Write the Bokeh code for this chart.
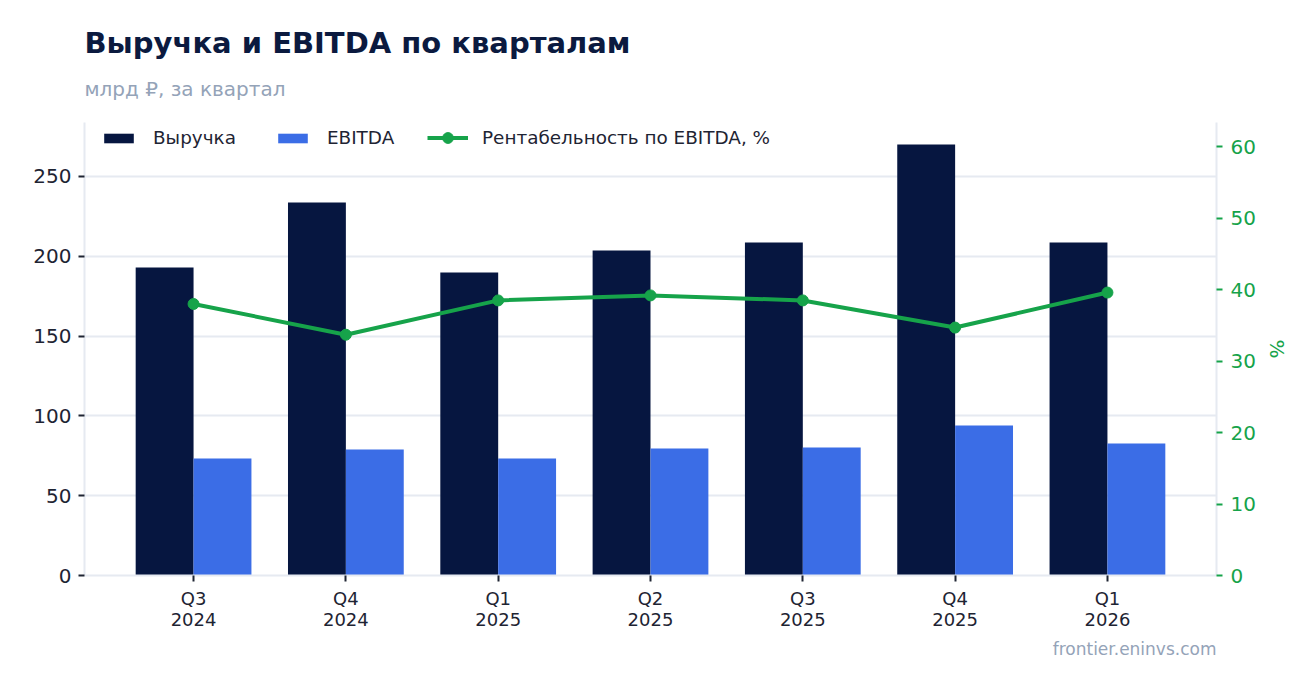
from bokeh.plotting import figure
from bokeh.models import (ColumnDataSource, Range1d, LinearAxis, FixedTicker,
                          Legend, LegendItem, Title)
from bokeh.embed import file_html
from bokeh.resources import INLINE

# данные по кварталам (млрд руб.)
quarters = ["Q3\n2024", "Q4\n2024", "Q1\n2025", "Q2\n2025", "Q3\n2025", "Q4\n2025", "Q1\n2026"]
revenue = [193.0, 233.7, 189.8, 203.6, 208.6, 270.0, 208.6]
ebitda = [73.3, 78.9, 73.3, 79.6, 80.2, 94.0, 82.7]
margin = [38.0, 33.7, 38.5, 39.2, 38.5, 34.7, 39.6]

FONT = "DejaVu Sans"
NAVY = "#061640"
BLUE = "#3b6de6"
GREEN = "#16a34a"
GRID = "#e6eaf1"
TXT = "#1e2433"
MUTED = "#94a3b8"

xs = list(range(len(quarters)))
src = ColumnDataSource(dict(
    x=xs,
    x_rev=[i - 0.19 for i in xs],
    x_ebt=[i + 0.19 for i in xs],
    revenue=revenue,
    ebitda=ebitda,
    margin=margin,
))

p = figure(width=1300, height=677, output_backend="svg", toolbar_location=None,
           x_range=Range1d(-0.716, 6.716), y_range=Range1d(0, 283.8),
           min_border_left=84, min_border_right=84, min_border_top=122,
           min_border_bottom=102)
p.outline_line_color = None
p.title.visible = False
p.extra_y_ranges = {"pct": Range1d(0, 63.4)}

r_rev = p.vbar(x="x_rev", top="revenue", width=0.38, source=src,
               fill_color=NAVY, line_color=None)
r_ebt = p.vbar(x="x_ebt", top="ebitda", width=0.38, source=src,
               fill_color=BLUE, line_color=None)
r_line = p.line(x="x", y="margin", source=src, y_range_name="pct",
                line_color=GREEN, line_width=4)
r_dot = p.scatter(x="x", y="margin", source=src, y_range_name="pct",
                  size=11, fill_color=GREEN, line_color=GREEN)

# оси
p.xgrid.visible = False
p.ygrid.grid_line_color = GRID
p.ygrid.grid_line_width = 2

xa = p.xaxis[0]
xa.ticker = FixedTicker(ticks=xs)
xa.major_label_overrides = {i: q for i, q in zip(xs, quarters)}
xa.axis_line_color = GRID
xa.axis_line_width = 2
xa.major_tick_line_color = TXT
xa.major_tick_line_width = 2
xa.major_tick_out = 6
xa.major_tick_in = 0
xa.minor_tick_line_color = None
xa.major_label_text_font = FONT
xa.major_label_text_font_size = "18px"
xa.major_label_text_line_height = 1.0
xa.major_label_text_color = TXT
xa.major_label_standoff = 6

ya = p.yaxis[0]
ya.ticker = FixedTicker(ticks=[0, 50, 100, 150, 200, 250])
ya.axis_line_color = GRID
ya.axis_line_width = 2
ya.major_tick_line_color = TXT
ya.major_tick_line_width = 2
ya.major_tick_out = 6
ya.major_tick_in = 0
ya.minor_tick_line_color = None
ya.major_label_text_font = FONT
ya.major_label_text_font_size = "20px"
ya.major_label_text_color = TXT
ya.major_label_standoff = 7

ra = LinearAxis(y_range_name="pct", axis_label="%",
                ticker=FixedTicker(ticks=[0, 10, 20, 30, 40, 50, 60]))
ra.axis_line_color = GRID
ra.axis_line_width = 2
ra.major_tick_line_color = GREEN
ra.major_tick_line_width = 2
ra.major_tick_out = 6
ra.major_tick_in = 0
ra.minor_tick_line_color = None
ra.major_label_text_font = FONT
ra.major_label_text_font_size = "20px"
ra.major_label_text_color = GREEN
ra.major_label_standoff = 8
ra.axis_label_text_font = FONT
ra.axis_label_text_font_size = "20px"
ra.axis_label_text_font_style = "normal"
ra.axis_label_text_color = GREEN
ra.axis_label_standoff = 6
p.add_layout(ra, "right")

# легенда: столбцы и линия отдельно (у линии крупнее маркер)
def style_legend(lg):
    lg.margin = 0
    lg.padding = 0
    lg.border_line_color = None
    lg.background_fill_alpha = 0
    lg.label_text_font = FONT
    lg.label_text_font_size = "18.4px"
    lg.label_text_color = TXT

leg_bars = Legend(items=[
    LegendItem(label="Выручка", renderers=[r_rev]),
    LegendItem(label="EBITDA", renderers=[r_ebt]),
], orientation="horizontal", location=(16, 427))
style_legend(leg_bars)
leg_bars.glyph_width = 37
leg_bars.glyph_height = 12
leg_bars.label_standoff = 16
leg_bars.spacing = 38
p.add_layout(leg_bars, "center")

leg_line = Legend(items=[
    LegendItem(label="Рентабельность по EBITDA, %", renderers=[r_line, r_dot]),
], orientation="horizontal", location=(343, 424))
style_legend(leg_line)
leg_line.glyph_width = 41
leg_line.glyph_height = 27
leg_line.label_standoff = 14
p.add_layout(leg_line, "center")

# заголовки (пустой отступ между графиком и подзаголовком)
spacer = Title(text=" ", text_font=FONT, text_font_size="17.5px", standoff=0)
p.add_layout(spacer, "above")
sub = Title(text="млрд ₽, за квартал", text_font=FONT, text_font_size="20px",
            text_font_style="normal", text_color=MUTED, standoff=0)
p.add_layout(sub, "above")
main = Title(text="Выручка и EBITDA по кварталам", text_font=FONT,
             text_font_size="29px", text_font_style="bold", text_color="#0b1a3f",
             standoff=30)
p.add_layout(main, "above")

foot = Title(text="frontier.eninvs.com", text_font=FONT, text_font_size="17px",
             text_font_style="normal", text_color=MUTED, align="right", standoff=8)
p.add_layout(foot, "below")

open("out.html", "w").write(file_html(p, INLINE))
